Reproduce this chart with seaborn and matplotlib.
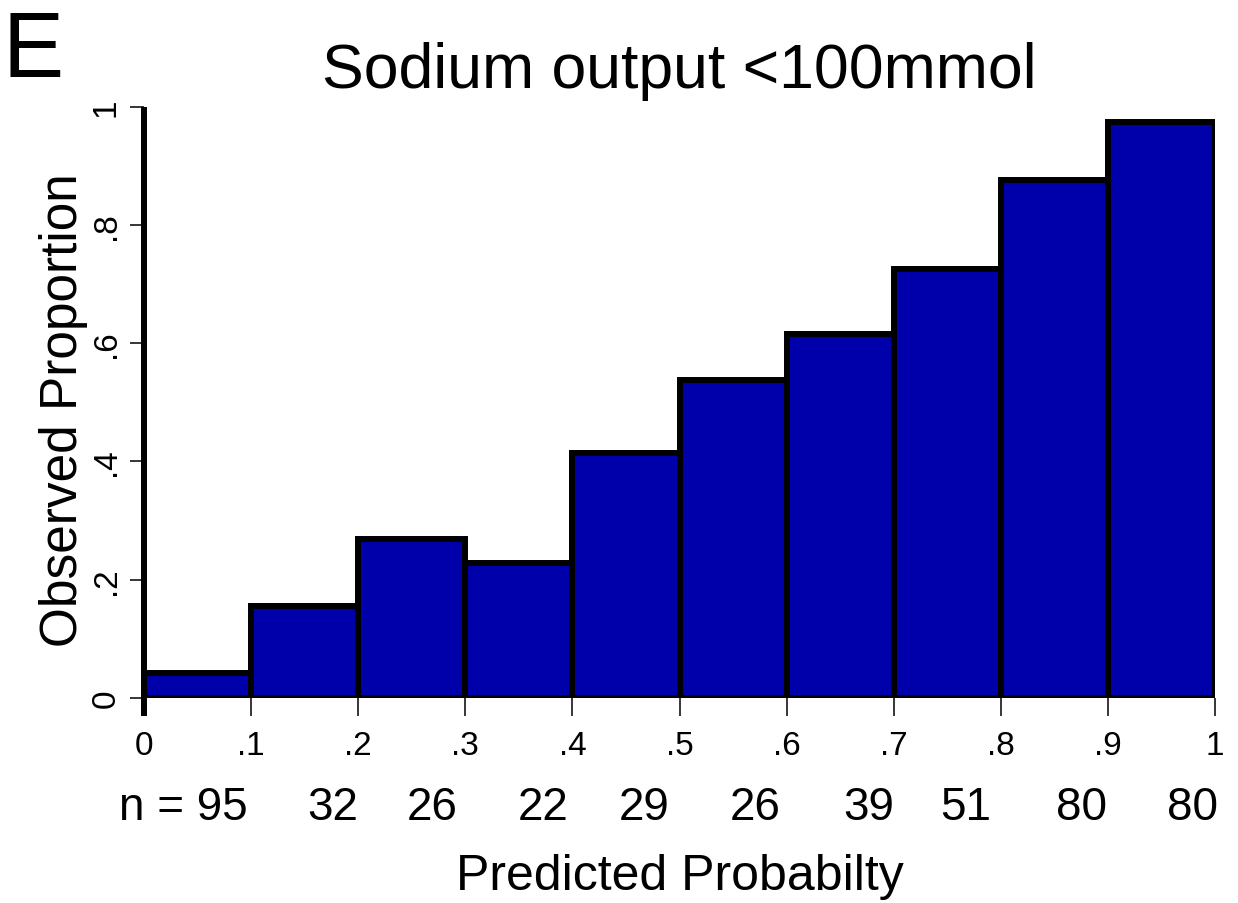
import numpy as np
import matplotlib
matplotlib.use("Agg")
import matplotlib.pyplot as plt
import seaborn as sns

# Calibration data: observed proportion per decile of predicted probability
bin_edges = [0.0, 0.1, 0.2, 0.3, 0.4, 0.5, 0.6, 0.7, 0.8, 0.9, 1.0]
observed = [0.043, 0.155, 0.268, 0.228, 0.414, 0.538, 0.615, 0.726, 0.875, 0.974]
n_counts = [95, 32, 26, 22, 29, 26, 39, 51, 80, 80]
x_tick_labels = ["0", ".1", ".2", ".3", ".4", ".5", ".6", ".7", ".8", ".9", "1"]
y_ticks = [0.0, 0.2, 0.4, 0.6, 0.8, 1.0]
y_tick_labels = ["0", ".2", ".4", ".6", ".8", "1"]
title_text = "Sodium output <100mmol"
panel_letter = "E"
x_label = "Predicted Probabilty"
y_label = "Observed Proportion"

# horizontal anchor of each count label along the x axis
count_label_x = [0.037, 0.176, 0.269, 0.373, 0.467, 0.571, 0.677, 0.767, 0.875, 0.979]

sns.set_style("ticks")
plt.rcParams["font.family"] = ["Liberation Sans", "DejaVu Sans"]

W, H = 1238, 904
fig = plt.figure(figsize=(W / 100, H / 100), dpi=100)
ax_left, ax_right, ax_top, ax_bottom = 144, 1215, 107.5, 699
ax = fig.add_axes([ax_left / W, (H - ax_bottom) / H,
                   (ax_right - ax_left) / W, (ax_bottom - ax_top) / H])

centers = [(a + b) / 2 for a, b in zip(bin_edges[:-1], bin_edges[1:])]
sns.histplot(x=centers, weights=observed, bins=bin_edges, stat="count",
             color="#0000AA", alpha=1.0, edgecolor="black", linewidth=4.3,
             ax=ax, zorder=2)

ax.set_xlim(0, 1)
ax.set_ylim(0, 1)
ax.set_xlabel("")
ax.set_ylabel("")

ax.set_xticks(bin_edges)
ax.set_xticklabels(x_tick_labels, fontsize=24)
ax.set_yticks(y_ticks)
ax.set_yticklabels(y_tick_labels, fontsize=24, rotation=90, va="center")

ax.tick_params(axis="x", direction="out", length=13, width=1.1, pad=10,
               color="black", labelcolor="black")
ax.tick_params(axis="y", direction="out", length=10, width=1.1, pad=6,
               color="black", labelcolor="black")

for side in ["top", "right", "bottom"]:
    ax.spines[side].set_visible(False)
ax.spines["left"].set_linewidth(4.3)
ax.spines["left"].set_color("black")
ax.spines["left"].set_bounds(-0.031, 1.0)
ax.spines["left"].set_capstyle("butt")

# counts per bin under the axis
trans = ax.get_xaxis_transform()
for i, (xp, n) in enumerate(zip(count_label_x, n_counts)):
    label = f"n = {n}" if i == 0 else str(n)
    ax.text(xp, -0.205, label, transform=trans, ha="center", va="baseline",
            fontsize=33, color="black", clip_on=False)

mid_x = (ax_left + ax_right) / 2 / W
fig.text(mid_x, (H - 88) / H, title_text, ha="center", va="baseline",
         fontsize=45, color="black")
fig.text(3 / W, (H - 77) / H, panel_letter, ha="left", va="baseline",
         fontsize=66, color="black")
fig.text(mid_x, (H - 890) / H, x_label, ha="center", va="baseline",
         fontsize=36, color="black")
fig.text(77 / W, (H - 410) / H, y_label, ha="center", va="baseline",
         rotation=90, rotation_mode="anchor", fontsize=37, color="black")

fig.savefig("out.png", dpi=100, facecolor="white")
